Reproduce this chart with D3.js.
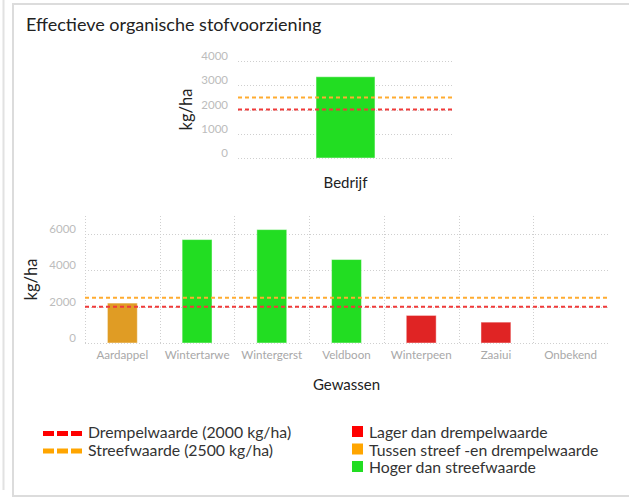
<!DOCTYPE html>
<html><head><meta charset="utf-8">
<script src="https://cdn.jsdelivr.net/npm/d3@7"></script>
<style>
html,body{margin:0;padding:0;background:#fff;}
svg{display:block;font-family:Lato, "Open Sans", sans-serif;}
</style></head>
<body>
<svg id="c" width="629" height="498"></svg>
<script>
// ---- data ----
const title = "Effectieve organische stofvoorziening";
const farmCategories = ["Bedrijf"];
const farmValues = [3350];
const farmTicks = [0, 1000, 2000, 3000, 4000];
const cropCategories = ["Aardappel","Wintertarwe","Wintergerst","Veldboon","Winterpeen","Zaaiui","Onbekend"];
const cropValues = [2200, 5700, 6250, 4600, 1520, 1150, null];
const cropTicks = [0, 2000, 4000, 6000];
const thresholdValue = 2000;  // Drempelwaarde
const targetValue = 2500;     // Streefwaarde
const lineLegend = ["Drempelwaarde (2000 kg/ha)", "Streefwaarde (2500 kg/ha)"];
const classLegend = ["Lager dan drempelwaarde", "Tussen streef -en drempelwaarde", "Hoger dan streefwaarde"];

// ---- styles ----
const barColor = v => v < thresholdValue ? "#e02424" : (v < targetValue ? "#e09c24" : "#22dd22");
const legendLineColors = ["#ff0000", "#ffa500"];
const legendBoxColors = ["#ff0000", "#ffa500", "#22dd22"];
const redLine = "#f03a3a", orangeLine = "#ffac30";

const svg = d3.select("#c");

// frame
svg.append("line").attr("x1",3.5).attr("x2",3.5).attr("y1",0).attr("y2",490).attr("stroke","#e2e2e2").attr("stroke-width",2);
svg.append("rect").attr("x",13).attr("y",4).attr("width",700).attr("height",492)
  .attr("fill","none").attr("stroke","#dcdcdc").attr("stroke-width",2);

svg.append("text").attr("x",26).attr("y",31).attr("font-size",18).attr("fill","#222").text(title);

function drawChart(cfg){
  const {cats, vals, ticks, yMax, x0, x1, y0, y1, padInner, padOuter, vGrid, labelX, yLabelX, xTitle, xTitleY, showCats} = cfg;
  const x = d3.scaleBand().domain(cats).range([x0, x1]).paddingInner(padInner).paddingOuter(padOuter);
  const y = d3.scaleLinear().domain([0, yMax]).range([y0, y1]);
  const g = svg.append("g");
  // horizontal grid
  g.selectAll(".hg").data(ticks).join("line")
    .attr("x1", x0).attr("x2", x1).attr("y1", d => Math.round(y(d))+0.5).attr("y2", d => Math.round(y(d))+0.5)
    .attr("stroke","#cfcfcf").attr("stroke-dasharray","1,2");
  if (vGrid) {
    g.selectAll(".vg").data(cats).join("line")
      .attr("x1", d => Math.round(x(d) - x.step()*padOuter)+0.5).attr("x2", d => Math.round(x(d) - x.step()*padOuter)+0.5)
      .attr("y1", y(yMax)).attr("y2", y0)
      .attr("stroke","#cfcfcf").attr("stroke-dasharray","1,2");
  }
  // tick labels
  g.selectAll(".tl").data(ticks).join("text")
    .attr("x", labelX).attr("y", d => y(d) - 1).attr("text-anchor","end")
    .attr("font-size",11.5).attr("fill","#bcbcbc").text(d => d);
  // bars
  g.selectAll(".bar").data(cats.map((c,i)=>({c, v: vals[i]})).filter(d => d.v != null)).join("rect")
    .attr("x", d => x(d.c)).attr("width", x.bandwidth())
    .attr("y", d => y(d.v)).attr("height", d => y0 - y(d.v))
    .attr("fill", d => barColor(d.v)).attr("stroke","#ffffff").attr("stroke-opacity",0.45).attr("stroke-width",1);
  // threshold lines
  g.append("line").attr("x1",x0).attr("x2",x1).attr("y1",y(targetValue)).attr("y2",y(targetValue))
    .attr("stroke",orangeLine).attr("stroke-width",2).attr("stroke-dasharray","4,3");
  g.append("line").attr("x1",x0).attr("x2",x1).attr("y1",y(thresholdValue)).attr("y2",y(thresholdValue))
    .attr("stroke",redLine).attr("stroke-width",2).attr("stroke-dasharray","4,3");
  // category labels
  if (showCats) {
    g.selectAll(".cl").data(cats).join("text")
      .attr("x", d => x(d) + x.bandwidth()/2).attr("y", y0 + 16).attr("text-anchor","middle")
      .attr("font-size",11.6).attr("fill","#a8a8a8").text(d => d);
  }
  // axis titles
  const ym = (y0 + y(yMax))/2;
  g.append("text").attr("transform",`translate(${yLabelX},${ym}) rotate(-90)`)
    .attr("text-anchor","middle").attr("dominant-baseline","central")
    .attr("font-size",16.5).attr("fill","#222").text("kg/ha");
  g.append("text").attr("x",(x0+x1)/2).attr("y",xTitleY).attr("text-anchor","middle")
    .attr("font-size",15).attr("fill","#222").text(xTitle);
}

drawChart({cats: farmCategories, vals: farmValues, ticks: farmTicks, yMax: 4000,
  x0: 238, x1: 453, y0: 158, y1: 61, padInner: 0.726, padOuter: 0.363, vGrid: false,
  labelX: 228, yLabelX: 186, xTitle: "Bedrijf", xTitleY: 188, showCats: false});

drawChart({cats: cropCategories, vals: cropValues, ticks: cropTicks, yMax: 7000,
  x0: 85, x1: 608, y0: 343, y1: 216, padInner: 0.6, padOuter: 0.3, vGrid: true,
  labelX: 76, yLabelX: 31, xTitle: "Gewassen", xTitleY: 390, showCats: true});

// legend - lines
const ll = svg.append("g");
lineLegend.forEach((t,i) => {
  const cy = 433.5 + i*17.5;
  ll.append("line").attr("x1",43).attr("x2",82).attr("y1",cy).attr("y2",cy)
    .attr("stroke",legendLineColors[i]).attr("stroke-width",5).attr("stroke-dasharray","11,3");
  ll.append("text").attr("x",88).attr("y",cy - 2).attr("dominant-baseline","central")
    .attr("font-size",15.8).attr("fill","#333").text(t);
});
// legend - classes
const lc = svg.append("g");
classLegend.forEach((t,i) => {
  const cy = 431.5 + i*17.5;
  lc.append("rect").attr("x",352).attr("y",cy-5.5).attr("width",11).attr("height",11).attr("fill",legendBoxColors[i]);
  lc.append("text").attr("x",369).attr("y",cy).attr("dominant-baseline","central")
    .attr("font-size",15.8).attr("fill","#333").text(t);
});
</script>
</body></html>
